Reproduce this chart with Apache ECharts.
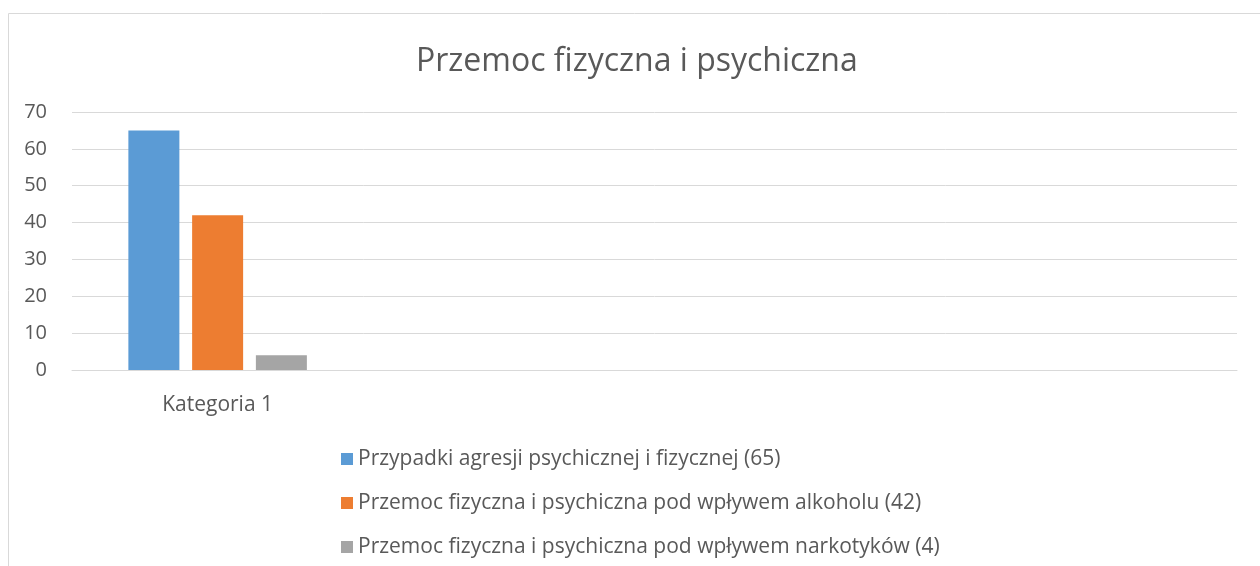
<!DOCTYPE html>
<html>
<head>
<meta charset="utf-8">
<title>Przemoc fizyczna i psychiczna</title>
<script src="https://cdn.jsdelivr.net/npm/echarts@6/dist/echarts.min.js"></script>
<style>
  html, body { margin: 0; padding: 0; background: #fff; }
  #chart { width: 1260px; height: 566px; }
</style>
</head>
<body>
<div id="chart"></div>
<script>
  // dane
  var categories = ['Kategoria 1', '', '', ''];
  var seriesNames = [
    'Przypadki agresji psychicznej i fizycznej (65)',
    'Przemoc fizyczna i psychiczna pod wpływem alkoholu (42)',
    'Przemoc fizyczna i psychiczna pod wpływem narkotyków (4)'
  ];
  var agresja = [65];
  var alkohol = [42];
  var narkotyki = [4];
  var yTicks = [0, 10, 20, 30, 40, 50, 60, 70];

  var colors = ['#5B9BD5', '#ED7D31', '#A5A5A5'];
  var font = '"Open Sans", "Liberation Sans", sans-serif';

  var myChart = echarts.init(document.getElementById('chart'));

  function barSeries(name, data) {
    return {
      name: name,
      type: 'bar',
      barWidth: 51,
      barGap: '25%',
      data: data
    };
  }

  myChart.setOption({
    animation: false,
    color: colors,
    title: {
      text: 'Przemoc fizyczna i psychiczna',
      left: 411,
      top: 41,
      textStyle: {
        fontFamily: font,
        fontSize: 32,
        fontWeight: 'normal',
        color: '#595959'
      }
    },
    graphic: [{
      type: 'rect',
      shape: { x: 8.5, y: 13.5, width: 1300, height: 600 },
      style: { fill: 'none', stroke: '#d9d9d9', lineWidth: 1 },
      silent: true
    }],
    legend: {
      orient: 'vertical',
      left: 336,
      top: 442,
      itemWidth: 12,
      itemHeight: 12,
      itemGap: 20,
      icon: 'rect',
      textStyle: {
        fontFamily: font,
        fontSize: 21,
        color: '#595959',
        lineHeight: 24
      },
      data: seriesNames
    },
    grid: {
      left: 72,
      right: 23,
      top: 112,
      bottom: 196
    },
    xAxis: {
      type: 'category',
      data: categories,
      axisTick: { show: false },
      axisLine: { lineStyle: { color: '#d9d9d9', width: 1 } },
      axisLabel: {
        fontFamily: font,
        fontSize: 21,
        color: '#595959',
        margin: 25
      }
    },
    yAxis: {
      type: 'value',
      min: yTicks[0],
      max: yTicks[yTicks.length - 1],
      interval: 10,
      axisLine: { show: false },
      axisTick: { show: false },
      splitLine: { lineStyle: { color: '#d9d9d9', width: 1 } },
      axisLabel: {
        fontFamily: font,
        fontSize: 20,
        color: '#595959',
        margin: 25
      }
    },
    series: [
      barSeries(seriesNames[0], agresja),
      barSeries(seriesNames[1], alkohol),
      barSeries(seriesNames[2], narkotyki)
    ]
  });
</script>
</body>
</html>
